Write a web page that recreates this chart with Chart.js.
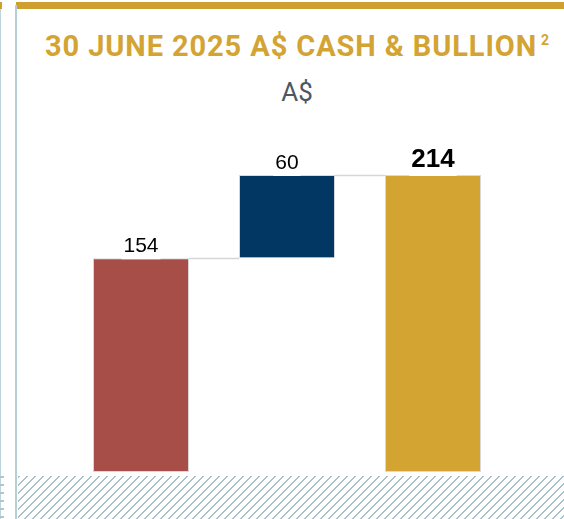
<!DOCTYPE html>
<html>
<head>
<meta charset="utf-8">
<script src="https://cdn.jsdelivr.net/npm/chart.js@4.4.1/dist/chart.umd.min.js"></script>
<style>
  html, body { margin: 0; padding: 0; background: #fff; }
  #frame { position: relative; width: 564px; height: 519px; overflow: hidden; background: #fff; }
  .rule-gold { position: absolute; left: 16px; top: 2px; right: 0; height: 7px; background: #CF9F2F; }
  .edge-gold { position: absolute; left: 0; top: 2px; width: 2px; height: 7px; background: #CF9F2F; }
  .edge-line { position: absolute; left: 0; top: 9px; bottom: 0; width: 1px; background: #BFD4DA; }
  .edge-ticks { position: absolute; left: 0; top: 476px; bottom: 0; width: 4px;
    background: repeating-linear-gradient(180deg, #AFC7CE 0, #AFC7CE 2px, transparent 2px, transparent 8px); }
  .side-line { position: absolute; left: 15px; top: 5px; bottom: 0; width: 2px; background: #B6CFD6; }
  .hatch { position: absolute; left: 18px; top: 476px; right: 0; bottom: 0;
    background: repeating-linear-gradient(135deg, #A9C2C9 0, #A9C2C9 1.6px, transparent 1.6px, transparent 5.66px); }
  .title { position: absolute; top: 32px; left: 45px; white-space: nowrap;
    font: bold 29px Roboto, sans-serif; line-height: 29px; letter-spacing: 0.9px; color: #D3A433; }
  .title sup { font-size: 14px; vertical-align: 11px; line-height: 0; letter-spacing: 0; margin-left: 4px; }
  .subtitle { position: absolute; top: 79px; left: 297px; transform: translateX(-50%); white-space: nowrap;
    font: 26px Roboto, sans-serif; line-height: 26px; color: #4D5761; }
  canvas { position: absolute; left: 0; top: 0; }
</style>
</head>
<body>
<div id="frame">
  <div class="rule-gold"></div>
  <div class="edge-gold"></div>
  <div class="edge-line"></div>
  <div class="edge-ticks"></div>
  <div class="side-line"></div>
  <div class="hatch"></div>
  <div class="title">30 JUNE 2025 A$ CASH &amp; BULLION<sup>2</sup></div>
  <div class="subtitle">A$</div>
  <canvas id="cashChart" width="564" height="519"></canvas>
</div>
<script>
// A$ millions: opening cash, bullion step, closing total
const categories = ['Cash', 'Bullion', 'Cash & Bullion'];
const values = [154, 60, 214];
const isTotal = [false, false, true];
const barColors = ['#A84E48', '#023764', '#D4A432'];

// floating [start, end] ranges for the waterfall
let running = 0;
const ranges = values.map((v, i) => {
    if (isTotal[i]) {
        running = v;
        return [0, v];
    }
    const r = [running, running + v];
    running += v;
    return r;
});

const waterfallExtras = {
    id: 'waterfallExtras',
    afterDatasetsDraw(chart) {
        const ctx = chart.ctx;
        const meta = chart.getDatasetMeta(0);
        const y = chart.scales.y;
        ctx.save();

        // connector lines between bar tops
        ctx.strokeStyle = '#D6D6D6';
        ctx.lineWidth = 1.5;
        for (let i = 0; i < meta.data.length - 1; i++) {
            const a = meta.data[i];
            const b = meta.data[i + 1];
            const level = Math.round(y.getPixelForValue(ranges[i][1])) + 0.5;
            ctx.beginPath();
            ctx.moveTo(a.x + a.width / 2, level);
            ctx.lineTo(b.x - b.width / 2, level);
            ctx.stroke();
        }

        // value labels on a white box
        ctx.textAlign = 'center';
        ctx.textBaseline = 'alphabetic';
        meta.data.forEach((bar, i) => {
            const bold = isTotal[i];
            ctx.font = bold ? 'bold 26px "Liberation Sans", Arial' : '21px "Liberation Sans", Arial';
            const text = String(values[i]);
            const w = ctx.measureText(text).width;
            const top = Math.min(bar.y, bar.base);
            const base = top - (bold ? 8 : 6);
            const capH = bold ? 20 : 16;
            ctx.fillStyle = '#fff';
            ctx.fillRect(bar.x - w / 2 - 2, base - capH, w + 4, top - base + capH + 1);
            ctx.fillStyle = '#000';
            ctx.fillText(text, bar.x, base);
        });
        ctx.restore();
    }
};

new Chart(document.getElementById('cashChart'), {
    type: 'bar',
    data: {
        labels: categories,
        datasets: [{
            data: ranges,
            backgroundColor: barColors,
            borderColor: '#D9D9D9',
            borderWidth: 1,
            borderSkipped: false,
            barPercentage: 0.658,
            categoryPercentage: 1
        }]
    },
    options: {
        responsive: false,
        animation: false,
        layout: {
            padding: { left: 68, right: 58, top: 125, bottom: 47 }
        },
        plugins: {
            legend: { display: false },
            tooltip: { enabled: false }
        },
        scales: {
            x: { display: false },
            y: { display: false, min: 0, max: 250 }
        }
    },
    plugins: [waterfallExtras]
});
</script>
</body>
</html>
